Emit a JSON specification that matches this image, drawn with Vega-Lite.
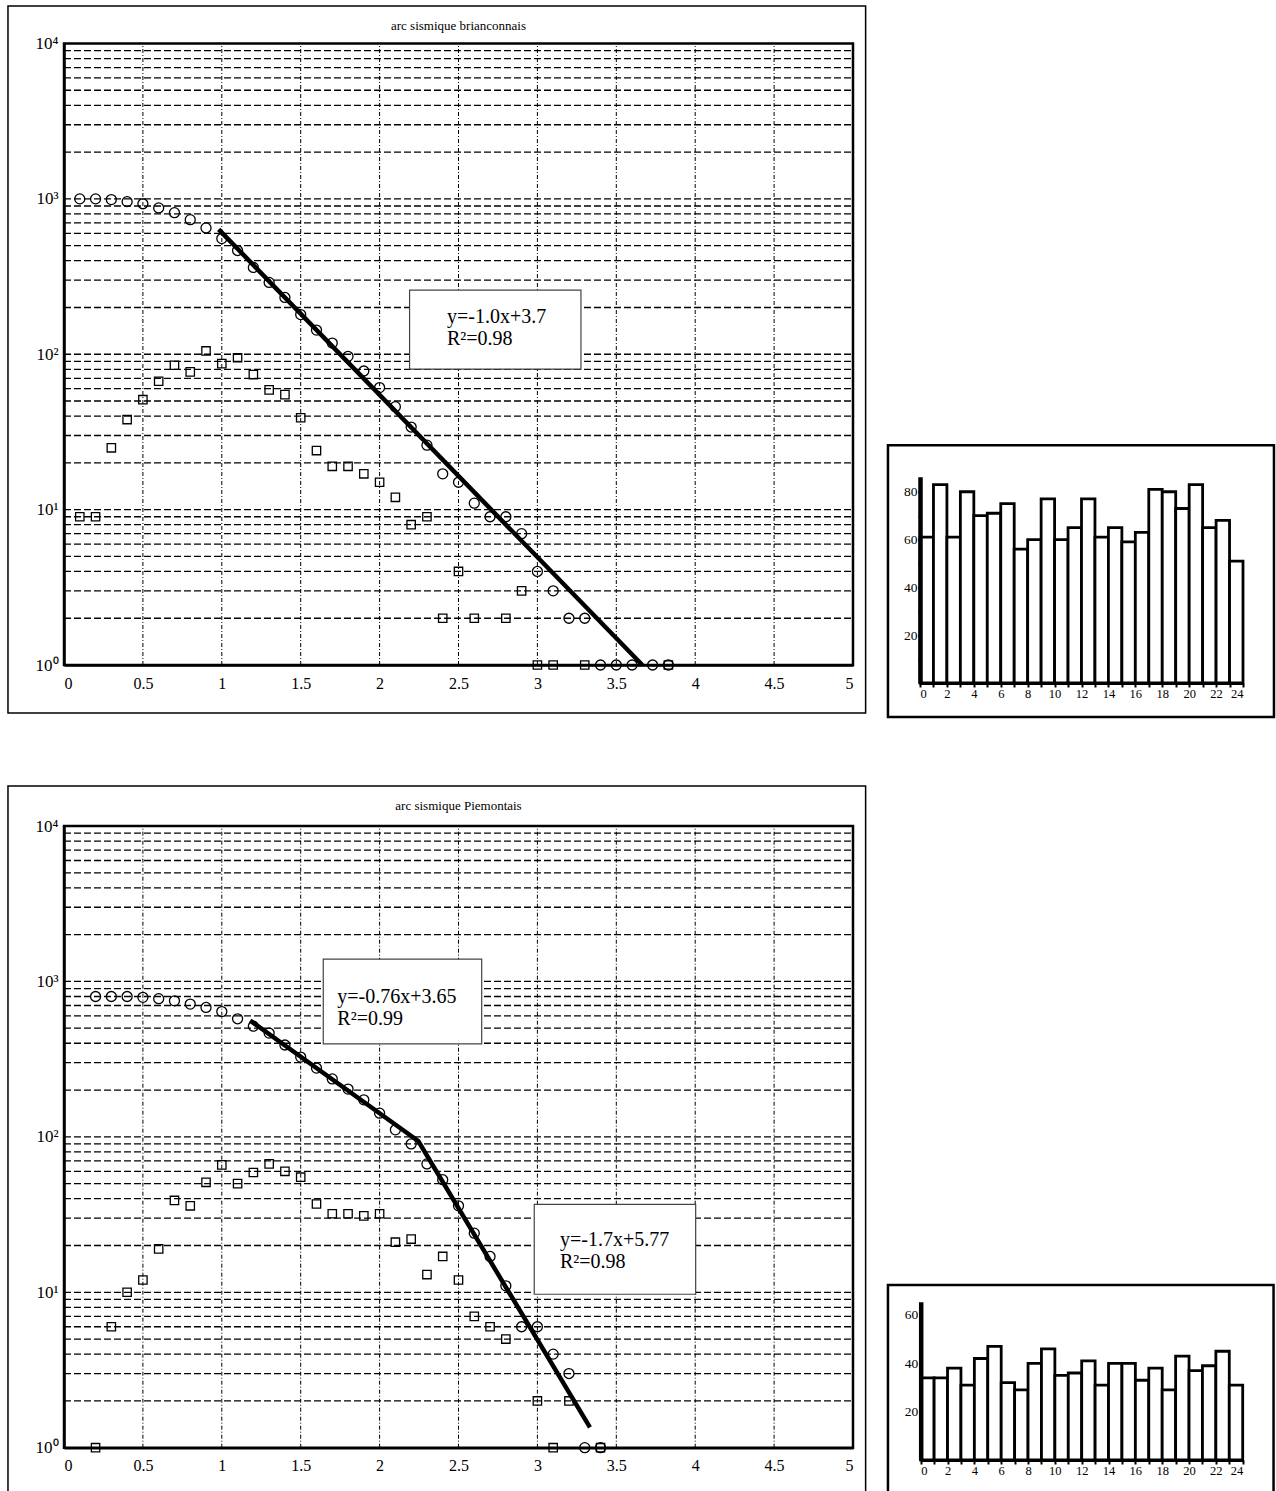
{
  "$schema": "https://vega.github.io/schema/vega-lite/v6.json",
  "width": 1276,
  "height": 1491,
  "autosize": "none",
  "padding": 0,
  "background": "white",
  "config": {
    "view": {"stroke": null},
    "font": "Liberation Serif",
    "axis": {"grid": false, "labelFont": "Liberation Serif", "labelColor": "black", "domainColor": "black", "tickColor": "black"}
  },
  "datasets": {
    "one": [{}],
    "hgrid": [{"v":2},{"v":3},{"v":4},{"v":5},{"v":6},{"v":7},{"v":8},{"v":9},{"v":10},{"v":20},{"v":30},{"v":40},{"v":50},{"v":60},{"v":70},{"v":80},{"v":90},{"v":100},{"v":200},{"v":300},{"v":400},{"v":500},{"v":600},{"v":700},{"v":800},{"v":900},{"v":1000},{"v":2000},{"v":3000},{"v":4000},{"v":5000},{"v":6000},{"v":7000},{"v":8000},{"v":9000}],
    "vgrid": [{"v":0.5},{"v":1},{"v":1.5},{"v":2},{"v":2.5},{"v":3},{"v":3.5},{"v":4},{"v":4.5}],
    "brianconnais": [
      {"x":0.1,"n":1000,"serie":"cumul"},{"x":0.2,"n":1000,"serie":"cumul"},{"x":0.3,"n":990,"serie":"cumul"},{"x":0.4,"n":960,"serie":"cumul"},{"x":0.5,"n":930,"serie":"cumul"},{"x":0.6,"n":875,"serie":"cumul"},{"x":0.7,"n":815,"serie":"cumul"},{"x":0.8,"n":735,"serie":"cumul"},{"x":0.9,"n":650,"serie":"cumul"},{"x":1.0,"n":555,"serie":"cumul"},{"x":1.1,"n":465,"serie":"cumul"},{"x":1.2,"n":362,"serie":"cumul"},{"x":1.3,"n":290,"serie":"cumul"},{"x":1.4,"n":232,"serie":"cumul"},{"x":1.5,"n":180,"serie":"cumul"},{"x":1.6,"n":143,"serie":"cumul"},{"x":1.7,"n":118,"serie":"cumul"},{"x":1.8,"n":97,"serie":"cumul"},{"x":1.9,"n":78,"serie":"cumul"},{"x":2.0,"n":61,"serie":"cumul"},{"x":2.1,"n":46,"serie":"cumul"},{"x":2.2,"n":34,"serie":"cumul"},{"x":2.3,"n":26,"serie":"cumul"},{"x":2.4,"n":17,"serie":"cumul"},{"x":2.5,"n":15,"serie":"cumul"},{"x":2.6,"n":11,"serie":"cumul"},{"x":2.7,"n":9,"serie":"cumul"},{"x":2.8,"n":9,"serie":"cumul"},{"x":2.9,"n":7,"serie":"cumul"},{"x":3.0,"n":4,"serie":"cumul"},{"x":3.1,"n":3,"serie":"cumul"},{"x":3.2,"n":2,"serie":"cumul"},{"x":3.3,"n":2,"serie":"cumul"},{"x":3.4,"n":1,"serie":"cumul"},{"x":3.5,"n":1,"serie":"cumul"},{"x":3.6,"n":1,"serie":"cumul"},{"x":3.73,"n":1,"serie":"cumul"},{"x":3.83,"n":1,"serie":"cumul"},
      {"x":0.1,"n":9,"serie":"classe"},{"x":0.2,"n":9,"serie":"classe"},{"x":0.3,"n":25,"serie":"classe"},{"x":0.4,"n":38,"serie":"classe"},{"x":0.5,"n":51,"serie":"classe"},{"x":0.6,"n":67,"serie":"classe"},{"x":0.7,"n":85,"serie":"classe"},{"x":0.8,"n":77,"serie":"classe"},{"x":0.9,"n":105,"serie":"classe"},{"x":1.0,"n":87,"serie":"classe"},{"x":1.1,"n":95,"serie":"classe"},{"x":1.2,"n":74,"serie":"classe"},{"x":1.3,"n":59,"serie":"classe"},{"x":1.4,"n":55,"serie":"classe"},{"x":1.5,"n":39,"serie":"classe"},{"x":1.6,"n":24,"serie":"classe"},{"x":1.7,"n":19,"serie":"classe"},{"x":1.8,"n":19,"serie":"classe"},{"x":1.9,"n":17,"serie":"classe"},{"x":2.0,"n":15,"serie":"classe"},{"x":2.1,"n":12,"serie":"classe"},{"x":2.2,"n":8,"serie":"classe"},{"x":2.3,"n":9,"serie":"classe"},{"x":2.4,"n":2,"serie":"classe"},{"x":2.5,"n":4,"serie":"classe"},{"x":2.6,"n":2,"serie":"classe"},{"x":2.8,"n":2,"serie":"classe"},{"x":2.9,"n":3,"serie":"classe"},{"x":3.0,"n":1,"serie":"classe"},{"x":3.1,"n":1,"serie":"classe"},{"x":3.3,"n":1,"serie":"classe"},{"x":3.83,"n":1,"serie":"classe"}
    ],
    "piemontais": [
      {"x":0.2,"n":800,"serie":"cumul"},{"x":0.3,"n":800,"serie":"cumul"},{"x":0.4,"n":800,"serie":"cumul"},{"x":0.5,"n":790,"serie":"cumul"},{"x":0.6,"n":775,"serie":"cumul"},{"x":0.7,"n":750,"serie":"cumul"},{"x":0.8,"n":715,"serie":"cumul"},{"x":0.9,"n":680,"serie":"cumul"},{"x":1.0,"n":640,"serie":"cumul"},{"x":1.1,"n":575,"serie":"cumul"},{"x":1.2,"n":515,"serie":"cumul"},{"x":1.3,"n":465,"serie":"cumul"},{"x":1.4,"n":390,"serie":"cumul"},{"x":1.5,"n":326,"serie":"cumul"},{"x":1.6,"n":277,"serie":"cumul"},{"x":1.7,"n":236,"serie":"cumul"},{"x":1.8,"n":203,"serie":"cumul"},{"x":1.9,"n":173,"serie":"cumul"},{"x":2.0,"n":142,"serie":"cumul"},{"x":2.1,"n":111,"serie":"cumul"},{"x":2.2,"n":90,"serie":"cumul"},{"x":2.3,"n":67,"serie":"cumul"},{"x":2.4,"n":53,"serie":"cumul"},{"x":2.5,"n":36,"serie":"cumul"},{"x":2.6,"n":24,"serie":"cumul"},{"x":2.7,"n":17,"serie":"cumul"},{"x":2.8,"n":11,"serie":"cumul"},{"x":2.9,"n":6,"serie":"cumul"},{"x":3.0,"n":6,"serie":"cumul"},{"x":3.1,"n":4,"serie":"cumul"},{"x":3.2,"n":3,"serie":"cumul"},{"x":3.3,"n":1,"serie":"cumul"},{"x":3.4,"n":1,"serie":"cumul"},
      {"x":0.2,"n":1,"serie":"classe"},{"x":0.3,"n":6,"serie":"classe"},{"x":0.4,"n":10,"serie":"classe"},{"x":0.5,"n":12,"serie":"classe"},{"x":0.6,"n":19,"serie":"classe"},{"x":0.7,"n":39,"serie":"classe"},{"x":0.8,"n":36,"serie":"classe"},{"x":0.9,"n":51,"serie":"classe"},{"x":1.0,"n":66,"serie":"classe"},{"x":1.1,"n":50,"serie":"classe"},{"x":1.2,"n":59,"serie":"classe"},{"x":1.3,"n":67,"serie":"classe"},{"x":1.4,"n":60,"serie":"classe"},{"x":1.5,"n":55,"serie":"classe"},{"x":1.6,"n":37,"serie":"classe"},{"x":1.7,"n":32,"serie":"classe"},{"x":1.8,"n":32,"serie":"classe"},{"x":1.9,"n":31,"serie":"classe"},{"x":2.0,"n":32,"serie":"classe"},{"x":2.1,"n":21,"serie":"classe"},{"x":2.2,"n":22,"serie":"classe"},{"x":2.3,"n":13,"serie":"classe"},{"x":2.4,"n":17,"serie":"classe"},{"x":2.5,"n":12,"serie":"classe"},{"x":2.6,"n":7,"serie":"classe"},{"x":2.7,"n":6,"serie":"classe"},{"x":2.8,"n":5,"serie":"classe"},{"x":3.0,"n":2,"serie":"classe"},{"x":3.1,"n":1,"serie":"classe"},{"x":3.2,"n":2,"serie":"classe"},{"x":3.4,"n":1,"serie":"classe"}
    ],
    "fit_b": [{"x":0.98,"n":637},{"x":3.665,"n":1}],
    "fit_p": [{"x":1.18,"n":560},{"x":2.245,"n":94},{"x":3.333,"n":1.35}],
    "h_b": [{"h0":0,"h1":1,"n":61},{"h0":1,"h1":2,"n":83},{"h0":2,"h1":3,"n":61},{"h0":3,"h1":4,"n":80},{"h0":4,"h1":5,"n":70},{"h0":5,"h1":6,"n":71},{"h0":6,"h1":7,"n":75},{"h0":7,"h1":8,"n":56},{"h0":8,"h1":9,"n":60},{"h0":9,"h1":10,"n":77},{"h0":10,"h1":11,"n":60},{"h0":11,"h1":12,"n":65},{"h0":12,"h1":13,"n":77},{"h0":13,"h1":14,"n":61},{"h0":14,"h1":15,"n":65},{"h0":15,"h1":16,"n":59},{"h0":16,"h1":17,"n":63},{"h0":17,"h1":18,"n":81},{"h0":18,"h1":19,"n":80},{"h0":19,"h1":20,"n":73},{"h0":20,"h1":21,"n":83},{"h0":21,"h1":22,"n":65},{"h0":22,"h1":23,"n":68},{"h0":23,"h1":24,"n":51}],
    "h_p": [{"h0":0,"h1":1,"n":34},{"h0":1,"h1":2,"n":34},{"h0":2,"h1":3,"n":38},{"h0":3,"h1":4,"n":31},{"h0":4,"h1":5,"n":42},{"h0":5,"h1":6,"n":47},{"h0":6,"h1":7,"n":32},{"h0":7,"h1":8,"n":29},{"h0":8,"h1":9,"n":40},{"h0":9,"h1":10,"n":46},{"h0":10,"h1":11,"n":35},{"h0":11,"h1":12,"n":36},{"h0":12,"h1":13,"n":41},{"h0":13,"h1":14,"n":31},{"h0":14,"h1":15,"n":40},{"h0":15,"h1":16,"n":40},{"h0":16,"h1":17,"n":33},{"h0":17,"h1":18,"n":38},{"h0":18,"h1":19,"n":29},{"h0":19,"h1":20,"n":43},{"h0":20,"h1":21,"n":37},{"h0":21,"h1":22,"n":39},{"h0":22,"h1":23,"n":45},{"h0":23,"h1":24,"n":31}]
  },
  "layer": [
    {"data": {"name": "one"}, "mark": {"type": "rect", "fill": "transparent", "stroke": "black", "strokeWidth": 1.5},
     "encoding": {"x": {"datum": -0.355, "type": "quantitative", "scale": {"domain": [0, 5], "range": [64, 853], "nice": false, "zero": false}, "axis": null}, "x2": {"datum": 5.08},
                  "y": {"datum": 0.491, "type": "quantitative", "scale": {"type": "log", "domain": [1, 10000], "range": [665, 43.5], "nice": false}, "axis": null}, "y2": {"datum": 17400}}},
    {"data": {"name": "vgrid"}, "mark": {"type": "rule", "color": "black", "strokeWidth": 1, "strokeDash": [4, 2, 1, 2]},
     "encoding": {"x": {"field": "v", "type": "quantitative", "scale": {"domain": [0, 5], "range": [64, 853], "nice": false, "zero": false}, "axis": null},
                  "y": {"datum": 1, "type": "quantitative", "scale": {"type": "log", "domain": [1, 10000], "range": [665, 43.5], "nice": false}, "axis": null}, "y2": {"datum": 10000}}},
    {"data": {"name": "hgrid"}, "mark": {"type": "rule", "color": "black", "strokeWidth": 1.3, "strokeDash": [7, 3]},
     "encoding": {"y": {"field": "v", "type": "quantitative", "scale": {"type": "log", "domain": [1, 10000], "range": [665, 43.5], "nice": false}, "axis": null},
                  "x": {"datum": 0, "type": "quantitative", "scale": {"domain": [0, 5], "range": [64, 853], "nice": false, "zero": false}, "axis": null}, "x2": {"datum": 5}}},
    {"data": {"name": "brianconnais"}, "transform": [{"filter": "datum.serie == 'classe'"}],
     "mark": {"type": "point", "shape": "square", "filled": false, "stroke": "black", "strokeWidth": 1.3, "size": 70, "opacity": 1},
     "encoding": {"x": {"field": "x", "type": "quantitative", "scale": {"domain": [0, 5], "range": [64, 853], "nice": false, "zero": false}, "axis": null},
                  "y": {"field": "n", "type": "quantitative", "scale": {"type": "log", "domain": [1, 10000], "range": [665, 43.5], "nice": false}, "axis": null}}},
    {"data": {"name": "brianconnais"}, "transform": [{"filter": "datum.serie == 'cumul'"}],
     "mark": {"type": "point", "shape": "circle", "filled": false, "stroke": "black", "strokeWidth": 1.3, "size": 100, "opacity": 1},
     "encoding": {"x": {"field": "x", "type": "quantitative", "scale": {"domain": [0, 5], "range": [64, 853], "nice": false, "zero": false},
                        "axis": {"orient": "bottom", "offset": -826, "zindex": 1, "values": [0,0.5,1,1.5,2,2.5,3,3.5,4,4.5,5], "format": "~g", "labelFontSize": 16, "ticks": false, "labelPadding": 10, "domainWidth": 2.5, "title": null}},
                  "y": {"field": "n", "type": "quantitative", "scale": {"type": "log", "domain": [1, 10000], "range": [665, 43.5], "nice": false},
                        "axis": {"orient": "left", "offset": -64, "zindex": 1, "values": [1,10,100,1000,10000], "labelExpr": "'10' + ['⁰','¹','²','³','⁴'][round(log(datum.value)/LN10)]", "labelFontSize": 17, "ticks": false, "labelPadding": 6, "domainWidth": 2.5, "title": null}}}},
    {"data": {"name": "one"}, "mark": {"type": "rect", "fill": "transparent", "stroke": "black", "strokeWidth": 2.5},
     "encoding": {"x": {"datum": 0, "type": "quantitative", "scale": {"domain": [0, 5], "range": [64, 853], "nice": false, "zero": false}, "axis": null}, "x2": {"datum": 5},
                  "y": {"datum": 1, "type": "quantitative", "scale": {"type": "log", "domain": [1, 10000], "range": [665, 43.5], "nice": false}, "axis": null}, "y2": {"datum": 10000}}},
    {"data": {"name": "fit_b"}, "mark": {"type": "line", "color": "black", "strokeWidth": 4.5},
     "encoding": {"x": {"field": "x", "type": "quantitative", "scale": {"domain": [0, 5], "range": [64, 853], "nice": false, "zero": false}, "axis": null},
                  "y": {"field": "n", "type": "quantitative", "scale": {"type": "log", "domain": [1, 10000], "range": [665, 43.5], "nice": false}, "axis": null}}},
    {"data": {"name": "one"}, "mark": {"type": "rect", "fill": "white", "stroke": "#444", "strokeWidth": 1.2},
     "encoding": {"x": {"datum": 2.19, "type": "quantitative", "scale": {"domain": [0, 5], "range": [64, 853], "nice": false, "zero": false}, "axis": null}, "x2": {"datum": 3.276},
                  "y": {"datum": 80.3, "type": "quantitative", "scale": {"type": "log", "domain": [1, 10000], "range": [665, 43.5], "nice": false}, "axis": null}, "y2": {"datum": 259}}},
    {"data": {"name": "one"}, "mark": {"type": "text", "align": "left", "baseline": "alphabetic", "fontSize": 20, "lineBreak": "\n", "lineHeight": 22, "color": "black"},
     "encoding": {"x": {"datum": 2.427, "type": "quantitative", "scale": {"domain": [0, 5], "range": [64, 853], "nice": false, "zero": false}, "axis": null},
                  "y": {"datum": 158.8, "type": "quantitative", "scale": {"type": "log", "domain": [1, 10000], "range": [665, 43.5], "nice": false}, "axis": null},
                  "text": {"value": "y=-1.0x+3.7\nR²=0.98"}}},
    {"data": {"name": "one"}, "mark": {"type": "text", "align": "center", "baseline": "middle", "fontSize": 13, "color": "black"},
     "encoding": {"x": {"datum": 2.5, "type": "quantitative", "scale": {"domain": [0, 5], "range": [64, 853], "nice": false, "zero": false}, "axis": null},
                  "y": {"datum": 12940, "type": "quantitative", "scale": {"type": "log", "domain": [1, 10000], "range": [665, 43.5], "nice": false}, "axis": null},
                  "text": {"value": "arc sismique brianconnais"}}},

    {"data": {"name": "one"}, "mark": {"type": "rect", "fill": "transparent", "stroke": "black", "strokeWidth": 1.5},
     "encoding": {"x": {"datum": -0.355, "type": "quantitative", "scale": {"domain": [0, 5], "range": [64, 853], "nice": false, "zero": false}, "axis": null}, "x2": {"datum": 5.08},
                  "y": {"datum": 0.3, "type": "quantitative", "scale": {"type": "log", "domain": [1, 10000], "range": [1447.7, 826], "nice": false}, "axis": null}, "y2": {"datum": 18100}}},
    {"data": {"name": "vgrid"}, "mark": {"type": "rule", "color": "black", "strokeWidth": 1, "strokeDash": [4, 2, 1, 2]},
     "encoding": {"x": {"field": "v", "type": "quantitative", "scale": {"domain": [0, 5], "range": [64, 853], "nice": false, "zero": false}, "axis": null},
                  "y": {"datum": 1, "type": "quantitative", "scale": {"type": "log", "domain": [1, 10000], "range": [1447.7, 826], "nice": false}, "axis": null}, "y2": {"datum": 10000}}},
    {"data": {"name": "hgrid"}, "mark": {"type": "rule", "color": "black", "strokeWidth": 1.3, "strokeDash": [7, 3]},
     "encoding": {"y": {"field": "v", "type": "quantitative", "scale": {"type": "log", "domain": [1, 10000], "range": [1447.7, 826], "nice": false}, "axis": null},
                  "x": {"datum": 0, "type": "quantitative", "scale": {"domain": [0, 5], "range": [64, 853], "nice": false, "zero": false}, "axis": null}, "x2": {"datum": 5}}},
    {"data": {"name": "piemontais"}, "transform": [{"filter": "datum.serie == 'classe'"}],
     "mark": {"type": "point", "shape": "square", "filled": false, "stroke": "black", "strokeWidth": 1.3, "size": 70, "opacity": 1},
     "encoding": {"x": {"field": "x", "type": "quantitative", "scale": {"domain": [0, 5], "range": [64, 853], "nice": false, "zero": false}, "axis": null},
                  "y": {"field": "n", "type": "quantitative", "scale": {"type": "log", "domain": [1, 10000], "range": [1447.7, 826], "nice": false}, "axis": null}}},
    {"data": {"name": "piemontais"}, "transform": [{"filter": "datum.serie == 'cumul'"}],
     "mark": {"type": "point", "shape": "circle", "filled": false, "stroke": "black", "strokeWidth": 1.3, "size": 100, "opacity": 1},
     "encoding": {"x": {"field": "x", "type": "quantitative", "scale": {"domain": [0, 5], "range": [64, 853], "nice": false, "zero": false},
                        "axis": {"orient": "bottom", "offset": -43.3, "zindex": 1, "values": [0,0.5,1,1.5,2,2.5,3,3.5,4,4.5,5], "format": "~g", "labelFontSize": 16, "ticks": false, "labelPadding": 10, "domainWidth": 2.5, "title": null}},
                  "y": {"field": "n", "type": "quantitative", "scale": {"type": "log", "domain": [1, 10000], "range": [1447.7, 826], "nice": false},
                        "axis": {"orient": "left", "offset": -64, "zindex": 1, "values": [1,10,100,1000,10000], "labelExpr": "'10' + ['⁰','¹','²','³','⁴'][round(log(datum.value)/LN10)]", "labelFontSize": 17, "ticks": false, "labelPadding": 6, "domainWidth": 2.5, "title": null}}}},
    {"data": {"name": "one"}, "mark": {"type": "rect", "fill": "transparent", "stroke": "black", "strokeWidth": 2.5},
     "encoding": {"x": {"datum": 0, "type": "quantitative", "scale": {"domain": [0, 5], "range": [64, 853], "nice": false, "zero": false}, "axis": null}, "x2": {"datum": 5},
                  "y": {"datum": 1, "type": "quantitative", "scale": {"type": "log", "domain": [1, 10000], "range": [1447.7, 826], "nice": false}, "axis": null}, "y2": {"datum": 10000}}},
    {"data": {"name": "fit_p"}, "mark": {"type": "line", "color": "black", "strokeWidth": 4.5},
     "encoding": {"x": {"field": "x", "type": "quantitative", "scale": {"domain": [0, 5], "range": [64, 853], "nice": false, "zero": false}, "axis": null},
                  "y": {"field": "n", "type": "quantitative", "scale": {"type": "log", "domain": [1, 10000], "range": [1447.7, 826], "nice": false}, "axis": null}}},
    {"data": {"name": "one"}, "mark": {"type": "rect", "fill": "white", "stroke": "#444", "strokeWidth": 1.2},
     "encoding": {"x": {"datum": 1.643, "type": "quantitative", "scale": {"domain": [0, 5], "range": [64, 853], "nice": false, "zero": false}, "axis": null}, "x2": {"datum": 2.647},
                  "y": {"datum": 396, "type": "quantitative", "scale": {"type": "log", "domain": [1, 10000], "range": [1447.7, 826], "nice": false}, "axis": null}, "y2": {"datum": 1390}}},
    {"data": {"name": "one"}, "mark": {"type": "text", "align": "left", "baseline": "alphabetic", "fontSize": 20, "lineBreak": "\n", "lineHeight": 22, "color": "black"},
     "encoding": {"x": {"datum": 1.732, "type": "quantitative", "scale": {"domain": [0, 5], "range": [64, 853], "nice": false, "zero": false}, "axis": null},
                  "y": {"datum": 724, "type": "quantitative", "scale": {"type": "log", "domain": [1, 10000], "range": [1447.7, 826], "nice": false}, "axis": null},
                  "text": {"value": "y=-0.76x+3.65\nR²=0.99"}}},
    {"data": {"name": "one"}, "mark": {"type": "rect", "fill": "white", "stroke": "#444", "strokeWidth": 1.2},
     "encoding": {"x": {"datum": 2.98, "type": "quantitative", "scale": {"domain": [0, 5], "range": [64, 853], "nice": false, "zero": false}, "axis": null}, "x2": {"datum": 4.003},
                  "y": {"datum": 9.71, "type": "quantitative", "scale": {"type": "log", "domain": [1, 10000], "range": [1447.7, 826], "nice": false}, "axis": null}, "y2": {"datum": 36.8}}},
    {"data": {"name": "one"}, "mark": {"type": "text", "align": "left", "baseline": "alphabetic", "fontSize": 20, "lineBreak": "\n", "lineHeight": 22, "color": "black"},
     "encoding": {"x": {"datum": 3.143, "type": "quantitative", "scale": {"domain": [0, 5], "range": [64, 853], "nice": false, "zero": false}, "axis": null},
                  "y": {"datum": 19.86, "type": "quantitative", "scale": {"type": "log", "domain": [1, 10000], "range": [1447.7, 826], "nice": false}, "axis": null},
                  "text": {"value": "y=-1.7x+5.77\nR²=0.98"}}},
    {"data": {"name": "one"}, "mark": {"type": "text", "align": "center", "baseline": "middle", "fontSize": 13, "color": "black"},
     "encoding": {"x": {"datum": 2.5, "type": "quantitative", "scale": {"domain": [0, 5], "range": [64, 853], "nice": false, "zero": false}, "axis": null},
                  "y": {"datum": 13460, "type": "quantitative", "scale": {"type": "log", "domain": [1, 10000], "range": [1447.7, 826], "nice": false}, "axis": null},
                  "text": {"value": "arc sismique Piemontais"}}},

    {"data": {"name": "one"}, "mark": {"type": "rect", "fill": "transparent", "stroke": "black", "strokeWidth": 2.5},
     "encoding": {"x": {"datum": -2.38, "type": "quantitative", "scale": {"domain": [0, 24], "range": [920, 1243], "nice": false, "zero": false}, "axis": null}, "x2": {"datum": 26.3},
                  "y": {"datum": -14.2, "type": "quantitative", "scale": {"domain": [0, 86.3], "range": [683, 476.7], "nice": false, "zero": false}, "axis": null}, "y2": {"datum": 99.5}}},
    {"data": {"name": "h_b"}, "mark": {"type": "rect", "fill": "white", "stroke": "black", "strokeWidth": 2.8},
     "encoding": {"x": {"field": "h0", "type": "quantitative", "scale": {"domain": [0, 24], "range": [920, 1243], "nice": false, "zero": false},
                        "axis": {"orient": "bottom", "offset": -808, "zindex": 1, "values": [0,1,2,3,4,5,6,7,8,9,10,11,12,13,14,15,16,17,18,19,20,21,22,23,24], "labelExpr": "datum.value % 2 == 0 ? datum.label : ''", "labelFontSize": 12.5, "ticks": true, "tickSize": 4, "tickWidth": 2, "labelPadding": 0, "domainWidth": 3, "title": null}},
                  "x2": {"field": "h1"},
                  "y": {"field": "n", "type": "quantitative", "scale": {"domain": [0, 86.3], "range": [683, 476.7], "nice": false, "zero": false},
                        "axis": {"orient": "left", "offset": -920, "zindex": 1, "values": [10,20,30,40,50,60,70,80], "labelExpr": "datum.value % 20 == 0 ? datum.label : ''", "labelFontSize": 13.5, "ticks": true, "tickSize": 2, "tickWidth": 2, "labelPadding": 1, "domainWidth": 4.5, "title": null}},
                  "y2": {"datum": 0}}},

    {"data": {"name": "one"}, "mark": {"type": "rect", "fill": "transparent", "stroke": "black", "strokeWidth": 2.5},
     "encoding": {"x": {"datum": -2.44, "type": "quantitative", "scale": {"domain": [0, 24], "range": [920.7, 1242.7], "nice": false, "zero": false}, "axis": null}, "x2": {"datum": 26.3},
                  "y": {"datum": -20, "type": "quantitative", "scale": {"domain": [0, 65.5], "range": [1460, 1301.7], "nice": false, "zero": false}, "axis": null}, "y2": {"datum": 72.4}}},
    {"data": {"name": "h_p"}, "mark": {"type": "rect", "fill": "white", "stroke": "black", "strokeWidth": 2.8},
     "encoding": {"x": {"field": "h0", "type": "quantitative", "scale": {"domain": [0, 24], "range": [920.7, 1242.7], "nice": false, "zero": false},
                        "axis": {"orient": "bottom", "offset": -31, "zindex": 1, "values": [0,1,2,3,4,5,6,7,8,9,10,11,12,13,14,15,16,17,18,19,20,21,22,23,24], "labelExpr": "datum.value % 2 == 0 ? datum.label : ''", "labelFontSize": 12.5, "ticks": true, "tickSize": 4, "tickWidth": 2, "labelPadding": 0, "domainWidth": 3, "title": null}},
                  "x2": {"field": "h1"},
                  "y": {"field": "n", "type": "quantitative", "scale": {"domain": [0, 65.5], "range": [1460, 1301.7], "nice": false, "zero": false},
                        "axis": {"orient": "left", "offset": -920.7, "zindex": 1, "values": [10,20,30,40,50,60], "labelExpr": "datum.value % 20 == 0 ? datum.label : ''", "labelFontSize": 13.5, "ticks": true, "tickSize": 2, "tickWidth": 2, "labelPadding": 1, "domainWidth": 4.5, "title": null}},
                  "y2": {"datum": 0}}}
  ],
  "resolve": {"scale": {"x": "independent", "y": "independent"}, "axis": {"x": "independent", "y": "independent"}}
}
